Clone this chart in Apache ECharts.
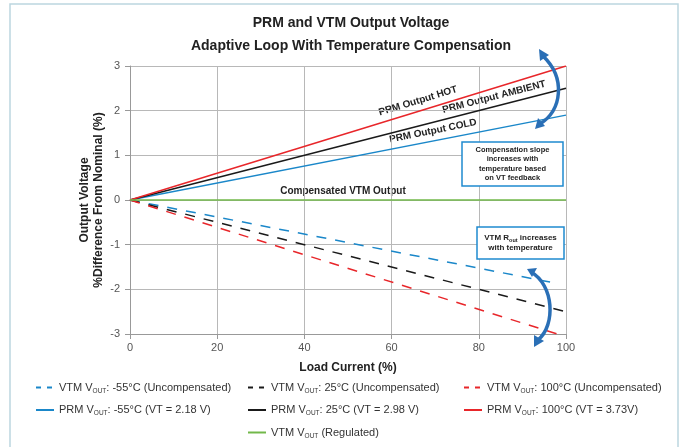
<!DOCTYPE html>
<html>
<head>
<meta charset="utf-8">
<script src="https://cdn.jsdelivr.net/npm/echarts@6/dist/echarts.min.js"></script>
<style>
  html, body { margin: 0; padding: 0; background: #fff; }
  #chart { width: 684px; height: 447px; }
</style>
</head>
<body>
<div id="chart"></div>
<script>
// load current (%) end points of each straight line
var loadX = [0, 100];
var vtmColdX = [0, 97];
var vtmHotX = [0, 98];

// output voltage, % difference from nominal
var prmCold = [0, 1.9];
var prmAmbient = [0, 2.5];
var prmHot = [0, 3.0];
var vtmRegulated = [0, 0];
var vtmCold = [0, -1.85];
var vtmAmbient = [0, -2.5];
var vtmHot = [0, -3.0];

var xTicks = [0, 20, 40, 60, 80, 100];
var yTicks = [-3, -2, -1, 0, 1, 2, 3];

var RED = '#e8262a', BLACK = '#1a1a1a', BLUE = '#1a87c9', GREEN = '#72b84a', ARROW = '#2a6fb6';
var FONT = 'Liberation Sans, Arial, sans-serif';

function pts(xs, ys) {
  return xs.map(function (x, i) { return [x, ys[i]]; });
}

var legendNames = {
  'vtmCold': '{n|VTM V}{s|OUT}{n|: -55°C (Uncompensated)}',
  'prmCold': '{n|PRM V}{s|OUT}{n|: -55°C (VT = 2.18 V)}',
  'vtmAmb': '{n|VTM V}{s|OUT}{n|: 25°C (Uncompensated)}',
  'prmAmb': '{n|PRM V}{s|OUT}{n|: 25°C (VT = 2.98 V)}',
  'vtmReg': '{n|VTM V}{s|OUT}{n| (Regulated)}',
  'vtmHot': '{n|VTM V}{s|OUT}{n|: 100°C (Uncompensated)}',
  'prmHot': '{n|PRM V}{s|OUT}{n|: 100°C (VT = 3.73V)}'
};

function line(name, data, color, dashed) {
  return {
    name: name,
    type: 'line',
    data: data,
    symbol: 'none',
    silent: true,
    lineStyle: { color: color, width: 1.5, type: dashed ? [10, 9] : 'solid' },
    itemStyle: { color: color },
    z: dashed ? 2 : 3
  };
}

function legendAt(left, names) {
  return {
    orient: 'vertical',
    left: left,
    top: 377,
    itemWidth: 18,
    itemHeight: 12,
    itemGap: 10,
    itemStyle: { opacity: 0 },
    data: names.map(function (n) {
      return n.indexOf('vtm') === 0 && n !== 'vtmReg'
        ? { name: n, lineStyle: { type: [5, 6] } }
        : { name: n };
    }),
    formatter: function (n) { return legendNames[n]; },
    textStyle: {
      fontFamily: FONT,
      rich: {
        n: { fontSize: 11, color: '#333', fontFamily: FONT, lineHeight: 14 },
        s: { fontSize: 6.5, color: '#333', fontFamily: FONT, lineHeight: 8, verticalAlign: 'bottom' }
      }
    }
  };
}

var chart = echarts.init(document.getElementById('chart'));
chart.setOption({
  animation: false,
  backgroundColor: '#fff',
  title: {
    text: 'PRM and VTM Output Voltage\nAdaptive Loop With Temperature Compensation',
    left: 346,
    textAlign: 'center',
    top: 7,
    textStyle: { fontFamily: FONT, fontSize: 14, fontWeight: 'bold', color: '#222', lineHeight: 23 }
  },
  grid: { left: 130, right: 118, top: 66, bottom: 113 },
  xAxis: {
    type: 'value',
    min: xTicks[0], max: xTicks[xTicks.length - 1], interval: 20,
    name: 'Load Current (%)',
    nameLocation: 'middle',
    nameMoveOverlap: false,
    nameGap: 28,
    nameTextStyle: { fontFamily: FONT, fontSize: 12, fontWeight: 'bold', color: '#222' },
    axisLine: { show: true, onZero: false, lineStyle: { color: '#999' } },
    axisTick: { show: true, length: 5, lineStyle: { color: '#999' } },
    axisLabel: { fontFamily: FONT, fontSize: 11, color: '#555', margin: 8 },
    splitLine: { show: true, lineStyle: { color: '#b8b8b8', width: 1 } }
  },
  yAxis: {
    type: 'value',
    min: yTicks[0], max: yTicks[yTicks.length - 1], interval: 1,
    name: 'Output Voltage\n%Difference From Nominal (%)',
    nameLocation: 'middle',
    nameRotate: 90,
    nameMoveOverlap: false,
    nameGap: 24,
    nameTextStyle: { fontFamily: FONT, fontSize: 12, fontWeight: 'bold', color: '#222', lineHeight: 14 },
    axisLine: { show: true, lineStyle: { color: '#999' } },
    axisTick: { show: true, length: 5, lineStyle: { color: '#999' } },
    axisLabel: { fontFamily: FONT, fontSize: 11, color: '#555', margin: 10 },
    splitLine: { show: true, lineStyle: { color: '#b8b8b8', width: 1 } }
  },
  legend: [
    legendAt(30, ['vtmCold', 'prmCold']),
    legendAt(242, ['vtmAmb', 'prmAmb', 'vtmReg']),
    legendAt(458, ['vtmHot', 'prmHot'])
  ],
  series: [
    line('vtmCold', pts(vtmColdX, vtmCold), BLUE, true),
    line('vtmAmb', pts(loadX, vtmAmbient), BLACK, true),
    line('vtmHot', pts(vtmHotX, vtmHot), RED, true),
    line('prmCold', pts(loadX, prmCold), BLUE, false),
    line('prmAmb', pts(loadX, prmAmbient), BLACK, false),
    line('prmHot', pts(loadX, prmHot), RED, false),
    line('vtmReg', pts(loadX, vtmRegulated), GREEN, false)
  ],
  graphic: [
    // outer frame
    { type: 'rect', shape: { x: 10, y: 4, width: 668, height: 460 }, style: { fill: 'none', stroke: '#bcd6e0', lineWidth: 1.5 }, z: -1 },
    // line labels
    { type: 'text', x: 418, y: 101, rotation: 17 * Math.PI / 180, style: { text: 'PRM Output HOT', font: 'bold 10px ' + FONT, fill: '#222', align: 'center', verticalAlign: 'middle' } },
    { type: 'text', x: 494, y: 97, rotation: 14.5 * Math.PI / 180, style: { text: 'PRM Output AMBIENT', font: 'bold 10px ' + FONT, fill: '#222', align: 'center', verticalAlign: 'middle' } },
    { type: 'text', x: 433, y: 131, rotation: 11.5 * Math.PI / 180, style: { text: 'PRM Output COLD', font: 'bold 10px ' + FONT, fill: '#222', align: 'center', verticalAlign: 'middle' } },
    { type: 'text', x: 343, y: 191, style: { text: 'Compensated VTM Output', font: 'bold 10px ' + FONT, fill: '#222', align: 'center', verticalAlign: 'middle' } },
    // annotation boxes
    { type: 'rect', shape: { x: 462, y: 142, width: 101, height: 44 }, style: { fill: '#fff', stroke: '#1f8ad0', lineWidth: 1.5 }, z: 10 },
    { type: 'text', x: 512.5, y: 164, z: 11, style: { text: 'Compensation slope\nincreases with\ntemperature based\non VT feedback', font: 'bold 7.5px ' + FONT, lineHeight: 9.5, fill: '#222', align: 'center', verticalAlign: 'middle' } },
    { type: 'rect', shape: { x: 477, y: 227, width: 87, height: 32 }, style: { fill: '#fff', stroke: '#1f8ad0', lineWidth: 1.5 }, z: 10 },
    { type: 'text', x: 520.5, y: 243, z: 11, style: {
        text: '{a|VTM R}{b|out}{a| increases}\n{a|with temperature}', align: 'center', verticalAlign: 'middle',
        rich: { a: { font: 'bold 8px ' + FONT, fill: '#222', lineHeight: 10 }, b: { font: 'bold 5.5px ' + FONT, fill: '#222', lineHeight: 6, verticalAlign: 'bottom' } } } },
    // curved double arrows
    { type: 'bezierCurve', z: 12, shape: { x1: 543, y1: 56, cpx1: 566, cpy1: 78, cpx2: 562, cpy2: 110, x2: 540, y2: 124 }, style: { stroke: ARROW, lineWidth: 3.5, fill: 'none' } },
    { type: 'polygon', z: 12, shape: { points: [[539, 49], [549, 55], [540, 61]] }, style: { fill: ARROW } },
    { type: 'polygon', z: 12, shape: { points: [[535, 129], [538, 118], [545, 126]] }, style: { fill: ARROW } },
    { type: 'bezierCurve', z: 12, shape: { x1: 531, y1: 272, cpx1: 554, cpy1: 285, cpx2: 556, cpy2: 325, x2: 538, y2: 340 }, style: { stroke: ARROW, lineWidth: 3.5, fill: 'none' } },
    { type: 'polygon', z: 12, shape: { points: [[527, 269], [537, 268], [532, 277]] }, style: { fill: ARROW } },
    { type: 'polygon', z: 12, shape: { points: [[534, 347], [534, 335], [544, 341]] }, style: { fill: ARROW } }
  ]
});
</script>
</body>
</html>
